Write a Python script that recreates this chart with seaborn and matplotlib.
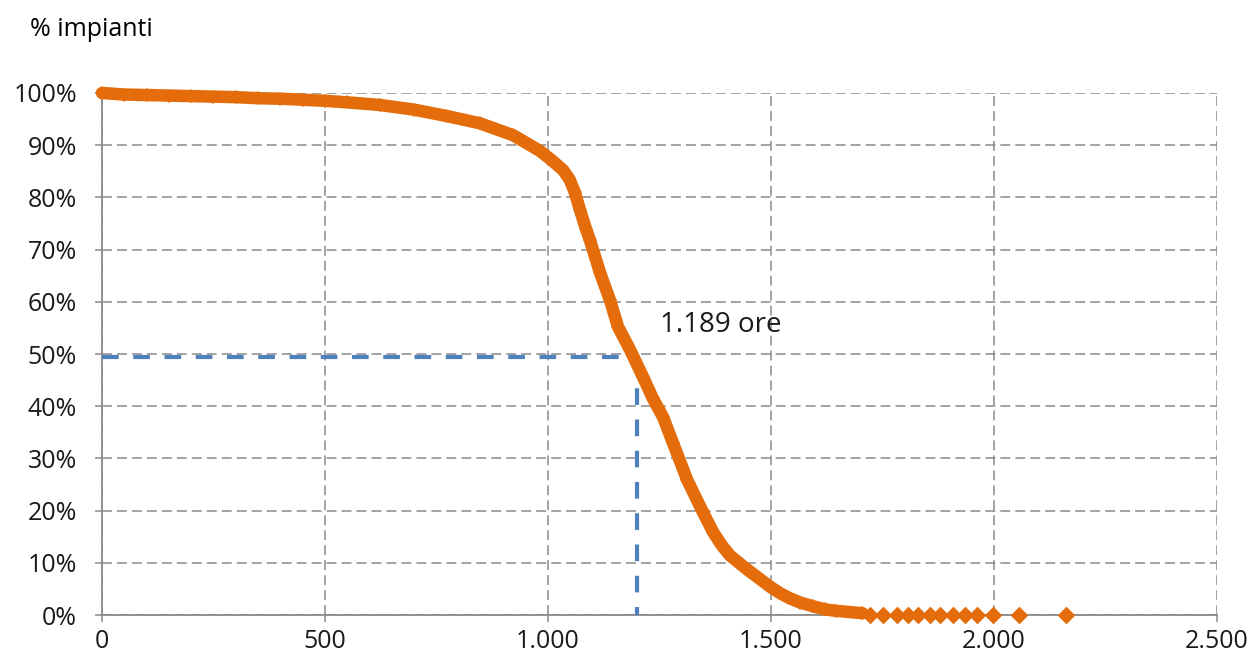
import pandas as pd
import numpy as np
import matplotlib.pyplot as plt
import matplotlib.ticker as mticker
import seaborn as sns

# ==========================================
# DATA
# ==========================================
# hours of operation vs share of plants exceeding that value
curve_hours = [0, 50, 100, 150, 200, 250, 300, 350, 400, 450, 500, 550, 623, 700,
               772, 847, 922, 982, 1010, 1034, 1048, 1060, 1072, 1085, 1094, 1117,
               1139, 1157, 1184, 1213, 1235, 1258, 1280, 1312, 1345, 1370, 1390,
               1408, 1444, 1475, 1500, 1520, 1540, 1565, 1593, 1620, 1646, 1705]
curve_pct = [100, 99.7, 99.6, 99.5, 99.4, 99.3, 99.2, 99.0, 98.9, 98.7, 98.5, 98.2,
             97.7, 96.8, 95.6, 94.2, 91.9, 88.9, 87.0, 85.2, 83.5, 81.0, 77.5, 74.0,
             71.8, 65.5, 60.3, 55.2, 50.8, 45.6, 41.5, 37.9, 33.0, 25.9, 20.1, 15.9,
             13.3, 11.4, 8.9, 6.9, 5.3, 4.2, 3.3, 2.4, 1.7, 1.1, 0.8, 0.35]

# isolated plants in the tail
tail_hours = [1722, 1751, 1782, 1807, 1830, 1857, 1879, 1908, 1935, 1962, 1998, 2056, 2161]
tail_pct = [0.05] * len(tail_hours)

median_hours = 1199
median_pct = 49.5
median_label = "1.189 ore"

x_ticks = [0, 500, 1000, 1500, 2000, 2500]
y_ticks = [0, 10, 20, 30, 40, 50, 60, 70, 80, 90, 100]

ORANGE = "#E46C0A"
BLUE = "#4F81BD"
GRID = "#8A8A8A"

curve_df = pd.DataFrame({"ore": curve_hours, "impianti": np.array(curve_pct) / 100})
tail_df = pd.DataFrame({"ore": tail_hours, "impianti": np.array(tail_pct) / 100})

# ==========================================
# STYLE
# ==========================================
sns.set_theme(style="white")
plt.rcParams["font.family"] = ["Open Sans", "DejaVu Sans"]

fig = plt.figure(figsize=(12.53, 6.58), dpi=100)
ax = fig.add_axes([0.0814, 0.0653, 0.8899, 0.7934])

# median reference lines (drawn first, the curve goes on top)
ax.plot([0, median_hours], [median_pct / 100, median_pct / 100], color=BLUE, lw=3,
        dashes=(4, 3.5), zorder=2, clip_on=False)
ax.plot([median_hours, median_hours], [median_pct / 100, 0], color=BLUE, lw=3,
        dashes=(4, 3.5), zorder=2, clip_on=False)

sns.lineplot(data=curve_df, x="ore", y="impianti", sort=False, ax=ax, color=ORANGE,
             lw=9, marker="D", markersize=7, markeredgewidth=0, zorder=3, clip_on=False)
sns.scatterplot(data=tail_df, x="ore", y="impianti", ax=ax, color=ORANGE, marker="D",
                s=80, linewidth=0, zorder=3, clip_on=False)

ax.text(1251, 0.556, median_label, fontsize=20, va="center", ha="left", color="#1a1a1a")

# ==========================================
# AXES
# ==========================================
ax.set_xlim(0, 2500)
ax.set_ylim(0, 1)
ax.set_xticks(x_ticks)
ax.set_yticks([v / 100 for v in y_ticks])
ax.xaxis.set_major_formatter(mticker.FuncFormatter(lambda v, p: f"{int(v):,}".replace(",", ".")))
ax.yaxis.set_major_formatter(mticker.FuncFormatter(lambda v, p: f"{v * 100:.0f}%"))
ax.set_xlabel("")
ax.set_ylabel("")

ax.grid(True, color=GRID, lw=1.1, dashes=(6.5, 3.3))
for side in ["top", "right"]:
    ax.spines[side].set_visible(False)
for side in ["left", "bottom"]:
    ax.spines[side].set_color(GRID)
    ax.spines[side].set_linewidth(1.3)
    ax.spines[side].set_zorder(1)

ax.tick_params(axis="both", which="major", direction="out", length=5, width=1.1,
               color=GRID, labelsize=18, labelcolor="#1a1a1a")
ax.tick_params(axis="y", pad=13, left=True)
ax.tick_params(axis="x", pad=5, bottom=True)

fig.text(0.024, 0.955, "% impianti", fontsize=18, va="center", ha="left", color="black")

fig.savefig("out.png", dpi=100)
